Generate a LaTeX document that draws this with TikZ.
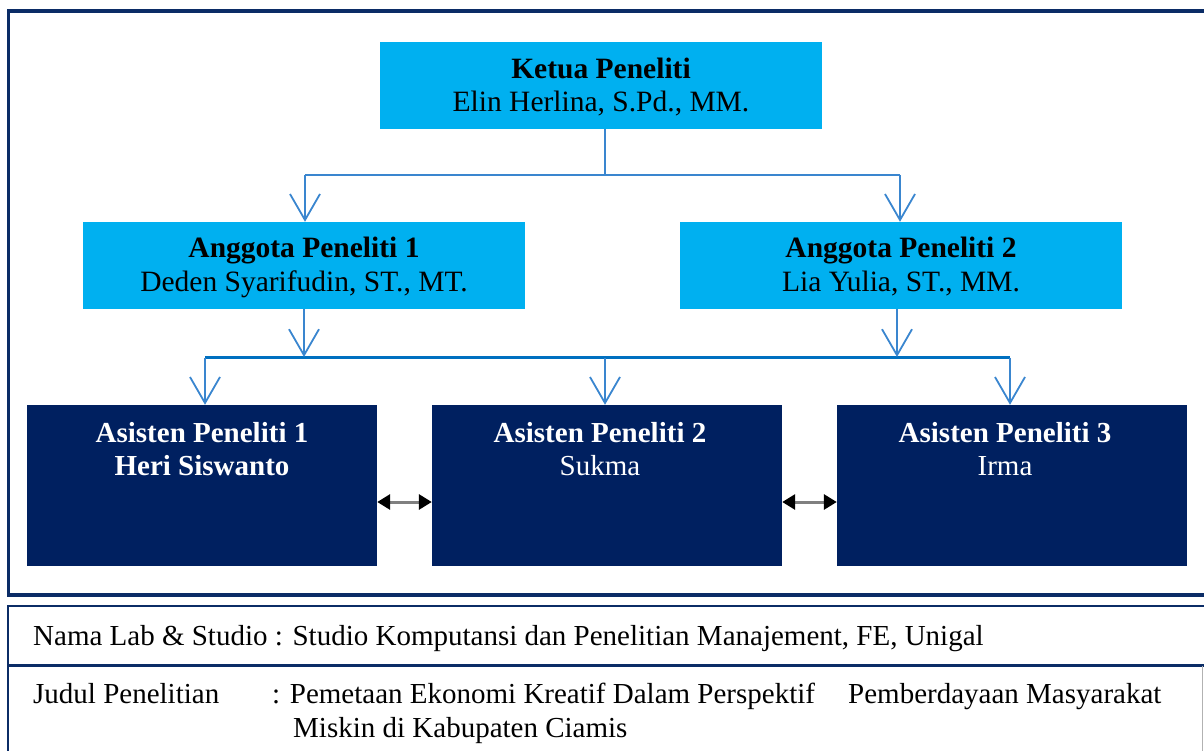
\documentclass[tikz,border=0pt]{standalone}
\usepackage{fontspec}
\setmainfont{Liberation Serif}
\usetikzlibrary{arrows.meta}
\definecolor{lblue}{HTML}{00B0F0}
\definecolor{navy}{HTML}{002060}
\definecolor{frame}{HTML}{0B2C66}
\definecolor{conn}{HTML}{3A86CF}
\definecolor{busc}{HTML}{0070C0}
\tikzset{
  lbox/.style={fill=lblue, inner sep=0pt, align=center, minimum width=442pt, minimum height=87pt,
    font=\fontsize{29.5}{33}\selectfont},
  ltext/.style={anchor=base, inner sep=0pt, font=\fontsize{29.5}{33}\selectfont},
  dbox/.style={fill=navy, inner sep=0pt, minimum width=350pt, minimum height=161pt},
  dtext/.style={text=white, anchor=base, inner sep=0pt, font=\fontsize{29}{33}\selectfont},
  ttext/.style={anchor=base west, inner sep=0pt, font=\fontsize{29}{33}\selectfont},
  conna/.style={draw=conn, line width=1.6pt},
  busa/.style={draw=busc, line width=3pt},
  vtip/.style={-{Straight Barb[length=26pt, width=30pt, line width=1.8pt]}},
  dbl/.style={draw=gray, line width=3pt, {Triangle[length=13pt, width=15pt, color=black]}-{Triangle[length=13pt, width=15pt, color=black]}},
}
\begin{document}
\begin{tikzpicture}[x=1pt, y=-1pt]
\useasboundingbox (0,0) rectangle (1204,751);
% outer frame
\draw[frame, line width=3.2pt] (1210,11) -- (8.5,11) -- (8.5,595) -- (1210,595);
% boxes
\node[lbox] (ketua) at (601,85.5) {};
\node[lbox] (ang1) at (304,265.5) {};
\node[lbox] (ang2) at (901,265.5) {};
\node[ltext] (k1) at (601,79) {\textbf{Ketua Peneliti}};
\node[ltext] (k2) at (601,112) {Elin Herlina, S.Pd., MM.};
\node[ltext] (a1t) at (304,258) {\textbf{Anggota Peneliti 1}};
\node[ltext] (a1n) at (304,291) {Deden Syarifudin, ST., MT.};
\node[ltext] (a2t) at (901,258) {\textbf{Anggota Peneliti 2}};
\node[ltext] (a2n) at (901,291) {Lia Yulia, ST., MM.};
\node[dbox] (as1) at (202,485.5) {};
\node[dbox] (as2) at (607,485.5) {};
\node[dbox] (as3) at (1012,485.5) {};
\node[dtext] (as1a) at (202,442) {\textbf{Asisten Peneliti 1}};
\node[dtext] (as1b) at (202,475) {\textbf{Heri Siswanto}};
\node[dtext] (as2a) at (600,442) {\textbf{Asisten Peneliti 2}};
\node[dtext] (as2b) at (600,475) {Sukma};
\node[dtext] (as3a) at (1005,442) {\textbf{Asisten Peneliti 3}};
\node[dtext] (as3b) at (1005,475) {Irma};
% connectors top level
\coordinate (kout) at (605,129);
\coordinate (bus1) at (605,175);
\draw[conna] (kout) -- (bus1);
\draw[conna] (305,175) -- (900,175);
\draw[conna, vtip] (305,175) -- (ang1.north -| 305,0);
\draw[conna, vtip] (900,175) -- (ang2.north -| 900,0);
% connectors second level
\coordinate (b2l) at (205,357.5);
\coordinate (b2r) at (1010,357.5);
\draw[busa] (b2l) -- (b2r);
\draw[conna, vtip] (ang1.south -| 304,0) -- (304,357);
\draw[conna, vtip] (ang2.south -| 897,0) -- (897,357);
\draw[conna, vtip] (b2l) -- (as1.north -| 205,0);
\draw[conna, vtip] (605,357.5) -- (as2.north -| 605,0);
\draw[conna, vtip] (b2r) -- (as3.north -| 1010,0);
% double arrows
\draw[dbl] (as1.east |- 0,502) -- (as2.west |- 0,502);
\draw[dbl] (as2.east |- 0,502) -- (as3.west |- 0,502);
% bottom table
\draw[frame, line width=2.5pt] (1210,606) -- (8,606) -- (8,760);
\draw[frame, line width=2.5pt] (8,665.5) -- (1210,665.5);
\draw[gray!60, line width=1pt] (1202,665.5) -- (1202,760);
\node[ttext] (lab) at (33,645) {Nama Lab \& Studio : Studio Komputansi dan Penelitian Manajement, FE, Unigal};
\node[ttext] (jl) at (33,703) {Judul Penelitian};
\node[ttext] (jc) at (272,703) {: Pemetaan Ekonomi Kreatif Dalam Perspektif};
\node[ttext] (jr) at (848,703) {Pemberdayaan Masyarakat};
\node[ttext] (j2) at (293,737) {Miskin di Kabupaten Ciamis};
\end{tikzpicture}
\end{document}
